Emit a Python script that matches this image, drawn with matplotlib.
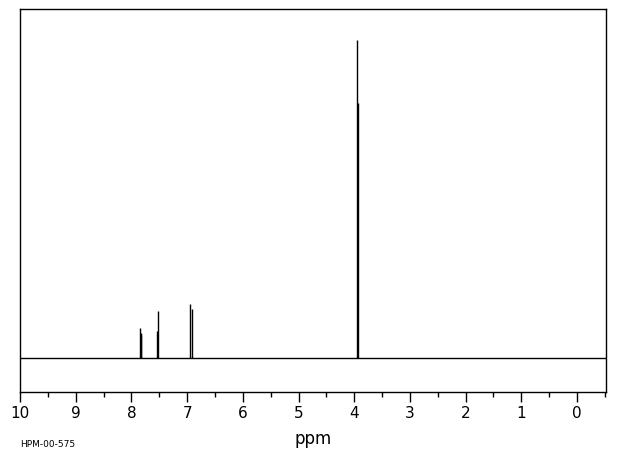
import matplotlib
matplotlib.use("Agg")
import matplotlib.pyplot as plt
from matplotlib.ticker import MultipleLocator

# peak positions (ppm) and relative heights (tallest = 100)
peak_ppm = [7.85, 7.83, 7.82, 7.54, 7.53, 6.94, 6.91, 3.95, 3.94]
peak_height = [9.4, 7.9, 7.2, 8.5, 14.8, 17.0, 15.4, 100.0, 80.0]
tick_values = list(range(0, 11))
code_label = "HPM-00-575"

W, H = 620, 455
fig = plt.figure(figsize=(W / 100, H / 100), dpi=100)
ax = fig.add_axes([20 / W, (H - 392) / H, (606 - 20) / W, (392 - 9) / H])

ax.axhline(0, color="black", linewidth=1)
ax.vlines(peak_ppm, 0, peak_height, color="black", linewidth=1)

ax.set_xlim(10, -0.52)
ax.set_ylim(-10.7, 109.7)
ax.set_yticks([])
ax.set_xticks(tick_values)
ax.set_xticklabels([str(v) for v in tick_values])
ax.xaxis.set_minor_locator(MultipleLocator(0.5))
ax.tick_params(axis="x", which="major", length=7.2, width=1, pad=3, labelsize=11)
ax.tick_params(axis="x", which="minor", length=3.6, width=1)
for s in ax.spines.values():
    s.set_linewidth(1)

ax.set_xlabel("ppm", fontsize=12, labelpad=6)
fig.text(20 / W, (H - 447) / H, code_label, fontsize=6.5)

fig.savefig("out.png", dpi=100)
